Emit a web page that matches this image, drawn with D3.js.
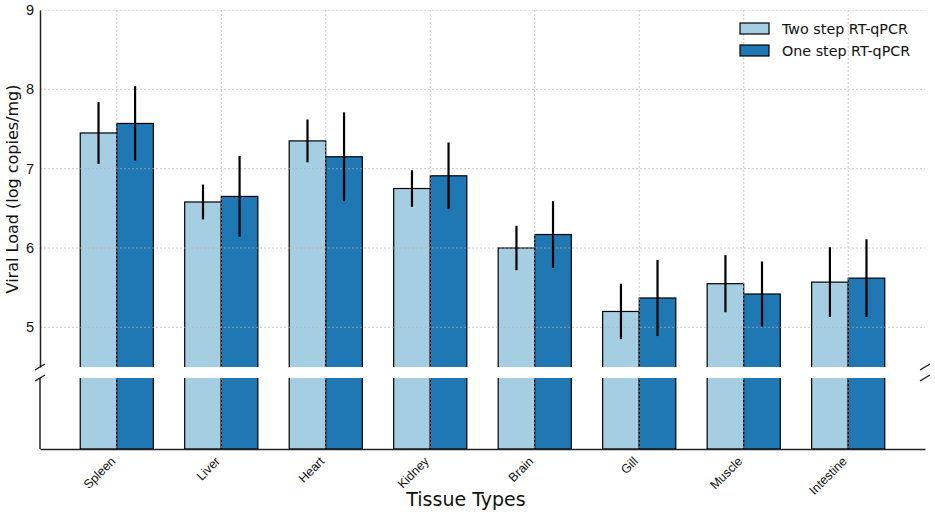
<!DOCTYPE html>
<html>
<head>
<meta charset="utf-8">
<script src="https://cdn.jsdelivr.net/npm/d3@7"></script>
<style>
  body { margin: 0; background: #fff; }
  svg { display: block; font-family: "DejaVu Sans", sans-serif; }
</style>
</head>
<body>
<div class="chart"></div>
<script>
// Données
const tissues = ["Spleen", "Liver", "Heart", "Kidney", "Brain", "Gill", "Muscle", "Intestine"]
const twoStep = [7.45, 6.58, 7.35, 6.75, 6.00, 5.20, 5.55, 5.57]
const twoStepErr = [0.39, 0.22, 0.27, 0.23, 0.28, 0.35, 0.36, 0.44]
const oneStep = [7.57, 6.65, 7.15, 6.91, 6.17, 5.37, 5.42, 5.62]
const oneStepErr = [0.47, 0.51, 0.56, 0.42, 0.42, 0.48, 0.41, 0.49]
const yTicks = [5, 6, 7, 8, 9]
const seriesNames = ["Two step RT-qPCR", "One step RT-qPCR"]

const width = 935
const height = 515
const colors = ["#a6cee3", "#1f78b4"]
const barW = 0.35

const svg = d3.select('.chart').append('svg')
    .attr('width', width)
    .attr('height', height)

// échelle x en unités de catégorie, comme matplotlib (marge 5%)
const x = d3.scaleLinear()
    .domain([-barW - 0.385, tissues.length - 1 + barW + 0.385])
    .range([40, 925])

// panneau haut (4.5 → 9) et panneau bas (0 → 4.5)
const yTop = d3.scaleLinear().domain([4.5, 9]).range([367, 10])
const yBot = d3.scaleLinear().domain([0, 4.5]).range([449, 378])

const series = [
    { name: seriesNames[0], values: twoStep, err: twoStepErr, off: -barW / 2, color: colors[0] },
    { name: seriesNames[1], values: oneStep, err: oneStepErr, off: barW / 2, color: colors[1] }
]

svg.append('clipPath').attr('id', 'clipTop')
    .append('rect').attr('x', 40).attr('y', 10).attr('width', 885).attr('height', 357)
svg.append('clipPath').attr('id', 'clipBot')
    .append('rect').attr('x', 40).attr('y', 378).attr('width', 885).attr('height', 71)

function drawPanel(y, clipId, withYGrid) {
    const g = svg.append('g').attr('clip-path', `url(#${clipId})`)
    series.forEach(s => {
        g.selectAll(null)
            .data(s.values)
            .join('rect')
            .attr('x', (d, i) => x(i + s.off - barW / 2))
            .attr('width', x(barW) - x(0))
            .attr('y', d => y(d))
            .attr('height', d => y(0) - y(d))
            .attr('fill', s.color)
            .attr('stroke', '#000')
            .attr('stroke-width', 1.2)
    })
    // grille par-dessus les barres
    g.selectAll(null)
        .data(tissues)
        .join('line')
        .attr('x1', (d, i) => x(i)).attr('x2', (d, i) => x(i))
        .attr('y1', y.range()[1]).attr('y2', y.range()[0])
        .attr('stroke', '#b0b0b0')
        .attr('stroke-opacity', 0.7)
        .attr('stroke-dasharray', '2,2')
    if (withYGrid) {
        g.selectAll(null)
            .data(yTicks)
            .join('line')
            .attr('x1', x.range()[0]).attr('x2', x.range()[1])
            .attr('y1', d => y(d)).attr('y2', d => y(d))
            .attr('stroke', '#b0b0b0')
            .attr('stroke-opacity', 0.7)
            .attr('stroke-dasharray', '2,2')
    }
}

drawPanel(yTop, 'clipTop', true)
drawPanel(yBot, 'clipBot', false)

// barres d'erreur (panneau haut)
series.forEach(s => {
    svg.append('g').selectAll('line')
        .data(s.values)
        .join('line')
        .attr('x1', (d, i) => x(i + s.off)).attr('x2', (d, i) => x(i + s.off))
        .attr('y1', (d, i) => yTop(d - s.err[i]))
        .attr('y2', (d, i) => yTop(d + s.err[i]))
        .attr('stroke', '#000')
        .attr('stroke-width', 2.2)
})

// axe y du haut
const yAxis = d3.axisLeft(yTop).tickValues(yTicks).tickSize(0).tickPadding(6).tickFormat(d3.format('d'))
svg.append('g')
    .attr('transform', `translate(${x.range()[0]},0)`)
    .call(yAxis)
    .call(g => g.select('.domain').attr('stroke', '#222').attr('stroke-width', 1.5))
    .call(g => g.selectAll('text').attr('font-size', 14.5).attr('fill', '#111'))

// axe gauche du bas
svg.append('line')
    .attr('x1', 40).attr('x2', 40).attr('y1', 378).attr('y2', 449)
    .attr('stroke', '#222').attr('stroke-width', 1.5)

// axe x du bas
const xAxis = d3.axisBottom(x).tickValues(d3.range(tissues.length)).tickSize(0).tickFormat(i => tissues[i])
svg.append('g')
    .attr('transform', `translate(0,449)`)
    .call(xAxis)
    .call(g => g.select('.domain').attr('stroke', '#222').attr('stroke-width', 1.5))
    .call(g => g.selectAll('text')
        .attr('font-size', 12.5)
        .attr('fill', '#111')
        .attr('text-anchor', 'end')
        .attr('dy', 0)
        .attr('y', 0)
        .attr('transform', 'translate(-1,13) rotate(-45)'))

// marques de coupure
const breaks = [[40, 367], [40, 378], [925, 367], [925, 378]]
svg.append('g').selectAll('line')
    .data(breaks)
    .join('line')
    .attr('x1', d => d[0] - 5).attr('y1', d => d[1] + 3)
    .attr('x2', d => d[0] + 5).attr('y2', d => d[1] - 3)
    .attr('stroke', '#111').attr('stroke-width', 1.3)

// titres des axes
svg.append('text')
    .attr('x', 466).attr('y', 506)
    .attr('text-anchor', 'middle')
    .attr('font-size', 19)
    .attr('fill', '#111')
    .text('Tissue Types')

svg.append('text')
    .attr('transform', `translate(18,189) rotate(-90)`)
    .attr('text-anchor', 'middle')
    .attr('font-size', 16)
    .attr('fill', '#111')
    .text('Viral Load (log copies/mg)')

// légende
const legend = svg.append('g').attr('transform', 'translate(740,23)')
series.forEach((s, i) => {
    legend.append('rect')
        .attr('x', 0).attr('y', i * 22)
        .attr('width', 29).attr('height', 11)
        .attr('fill', s.color)
        .attr('stroke', '#000')
        .attr('stroke-width', 1.2)
    legend.append('text')
        .attr('x', 42).attr('y', i * 22 + 11)
        .attr('font-size', 14.3)
        .attr('fill', '#111')
        .text(s.name)
})
</script>
</body>
</html>
